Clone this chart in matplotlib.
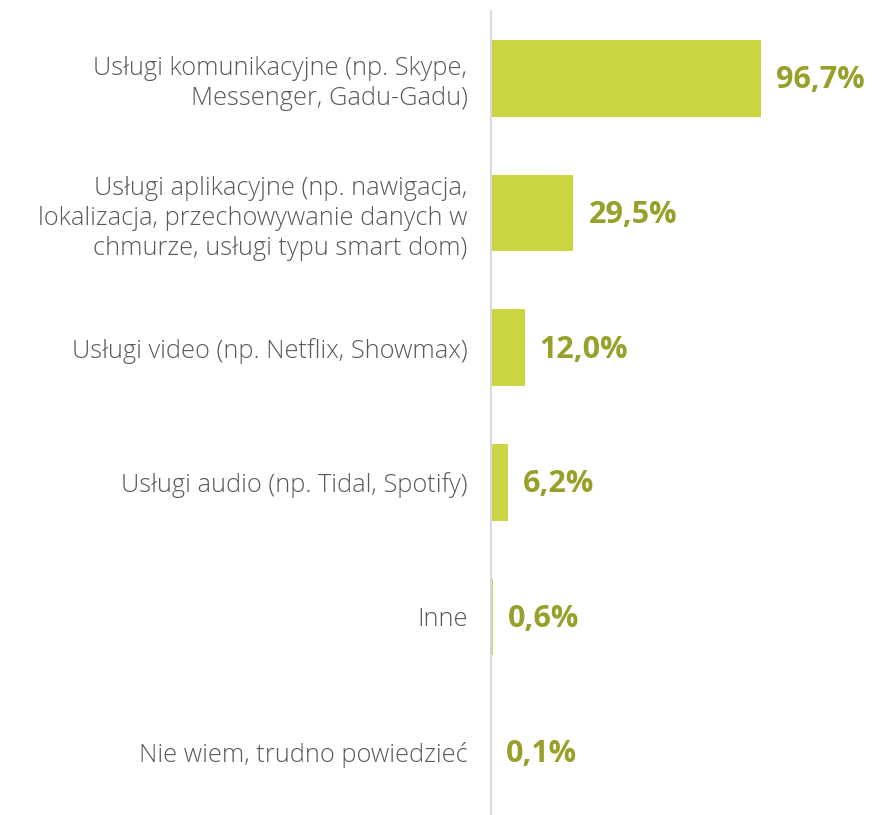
import matplotlib
matplotlib.use("Agg")
import matplotlib.pyplot as plt

categories = [
    "Usługi komunikacyjne (np. Skype,\nMessenger, Gadu-Gadu)",
    "Usługi aplikacyjne (np. nawigacja,\nlokalizacja, przechowywanie danych w\nchmurze, usługi typu smart dom)",
    "Usługi video (np. Netflix, Showmax)",
    "Usługi audio (np. Tidal, Spotify)",
    "Inne",
    "Nie wiem, trudno powiedzieć",
]
values = [96.7, 29.5, 12.0, 6.2, 0.6, 0.1]
value_labels = ["96,7%", "29,5%", "12,0%", "6,2%", "0,6%", "0,1%"]

BAR = "#CBD541"
LABEL = "#98A02A"
TEXT = "#595959"
AXIS = "#D9D9D9"

W, H = 873, 815
fig = plt.figure(figsize=(W / 100, H / 100), dpi=100)
left, right, top, bottom = 491, 868, 11, 819
ax = fig.add_axes([left / W, (H - bottom) / H, (right - left) / W, (bottom - top) / H])

ypos = list(range(len(categories)))
ax.barh(ypos, values, height=0.57, color=BAR, left=0)
ax.set_xlim(0, 135)
ax.set_ylim(len(categories) - 0.5, -0.5)

for y, v, lab in zip(ypos, values, value_labels):
    ax.annotate(lab, (v, y), xytext=(15, -2), textcoords="offset pixels",
                ha="left", va="center", fontsize=22, fontweight="bold",
                color=LABEL, family="Open Sans")

ax.set_yticks(ypos)
ax.set_yticklabels(categories, fontsize=18.3, color=TEXT, family="Open Sans",
                   fontweight="light", linespacing=1.27, ha="right")
ax.tick_params(axis="y", length=0, pad=17)
ax.set_xticks([])
for s in ("top", "right", "bottom"):
    ax.spines[s].set_visible(False)
ax.spines["left"].set_color(AXIS)
ax.spines["left"].set_linewidth(1.5)

fig.savefig("out.png", dpi=100)
